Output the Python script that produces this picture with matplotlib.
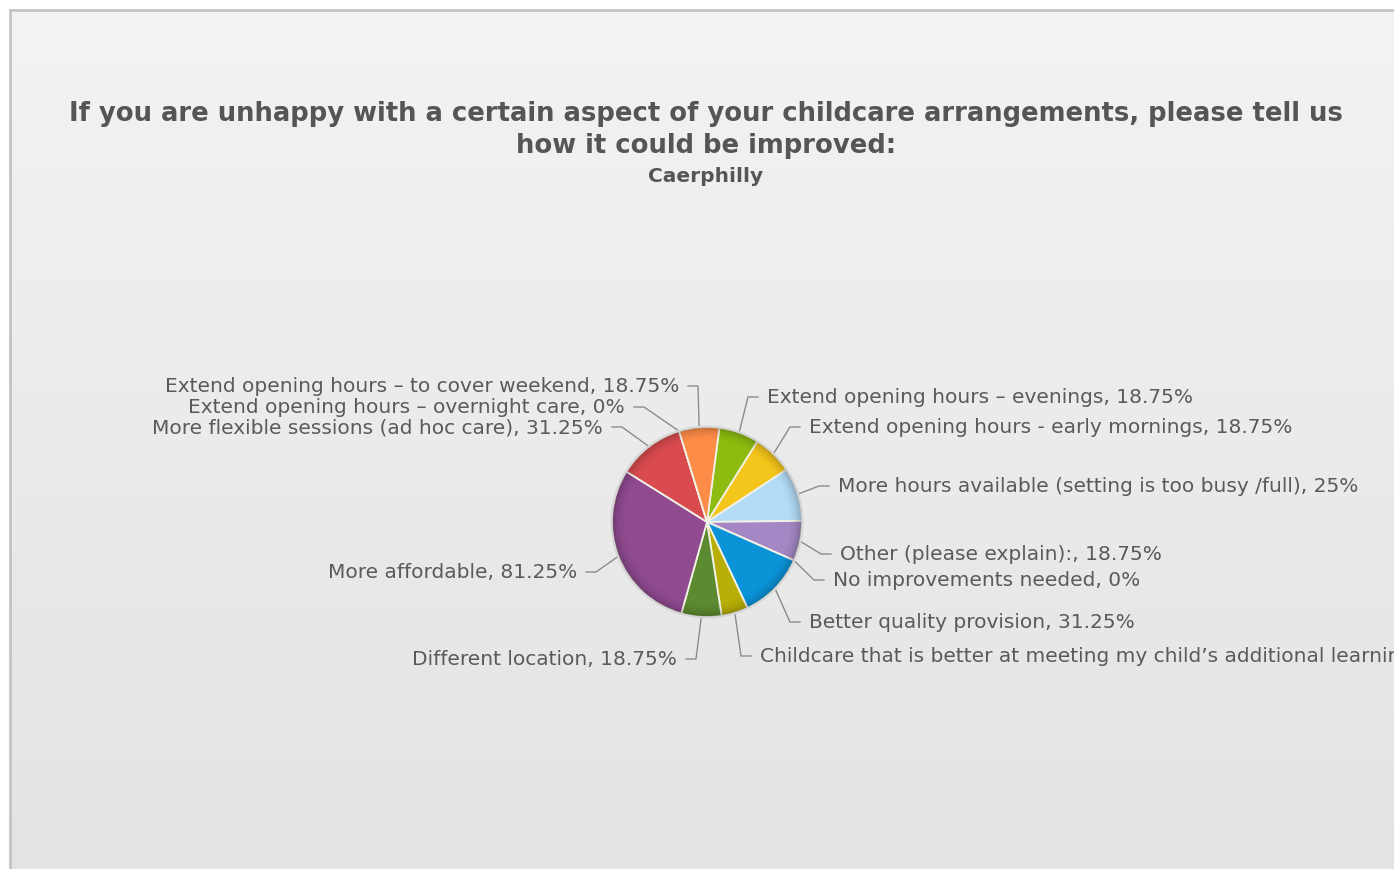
# pie chart: how childcare could be improved, Caerphilly
import numpy as np
import matplotlib

matplotlib.use('Agg')
import matplotlib.pyplot as plt
from matplotlib.patches import Rectangle, Wedge

# data (percent of respondents)
labels = [
    'Extend opening hours \u2013 evenings',
    'Extend opening hours - early mornings',
    'More hours available (setting is too busy /full)',
    'Other (please explain):',
    'No improvements needed',
    'Better quality provision',
    'Childcare that is better at meeting my child\u2019s additional learning needs',
    'Different location',
    'More affordable',
    'More flexible sessions (ad hoc care)',
    'Extend opening hours \u2013 overnight care',
    'Extend opening hours \u2013 to cover weekend',
]
values = [18.75, 18.75, 25, 18.75, 0, 31.25, 12.5, 18.75, 81.25, 31.25, 0, 18.75]
colors = ['#8dbb0f', '#f4c51b', '#b3dbf6', '#a487c4', '#e0e0e0', '#0b93d8',
          '#b8ae08', '#5c8a30', '#8f4a90', '#d94b4e', '#fd8c48', '#fd8c48']

# label positions in pixels (x = left edge for right side, right edge for left side)
label_pos = [
    (767, 398, 'left'), (809, 428, 'left'), (838, 487, 'left'), (840, 555, 'left'),
    (833, 581, 'left'), (809, 623, 'left'), (760, 657, 'left'), (677, 660, 'right'),
    (577, 573, 'right'), (603, 428, 'right'), (625, 408, 'right'), (679, 387, 'right'),
]

W, H = 1394, 870
CX, CY, R = 707, 523, 95
TEXT = '#5a5a5a'

fig = plt.figure(figsize=(W / 100, H / 100), dpi=100, facecolor='white')
ax = fig.add_axes([0, 0, 1, 1])


def Y(y):
    # image rows go down, axis goes up
    return H - y


# panel background with gradient
grad = np.linspace(0, 1, 256).reshape(-1, 1)
ax.imshow(grad, cmap=matplotlib.colors.LinearSegmentedColormap.from_list('bg', ['#f3f3f3', '#e3e3e3']),
          extent=(10, W + 5, Y(H + 5), Y(11)), aspect='auto', zorder=0)
ax.add_patch(Rectangle((10, Y(H + 5)), W, H - 6, fill=False, edgecolor='#c4c4c4', lw=2, zorder=1))

wedges, _ = ax.pie(values, colors=colors, startangle=82.5, counterclock=False,
                   center=(CX, Y(CY)), radius=R,
                   wedgeprops=dict(edgecolor='#f2f2e6', linewidth=1.3, zorder=3))

# bevel shading near the rim
n = 12
for k in range(n):
    r_out = R * (1 - 0.012 * k)
    ax.add_patch(Wedge((CX, Y(CY)), r_out, 0, 360, width=R * 0.012,
                       facecolor='black', edgecolor='none', alpha=0.22 * (1 - k / n) ** 2, zorder=4))
ax.add_patch(Wedge((CX, Y(CY)), R + 1.5, 0, 360, width=1.8, facecolor='#d6d6d6',
                   edgecolor='none', zorder=4))

# labels and connectors
for w, lab, val, (tx, ty, ha) in zip(wedges, labels, values, label_pos):
    ang = np.deg2rad((w.theta1 + w.theta2) / 2)
    px = CX + R * np.cos(ang)
    py = Y(CY) + R * np.sin(ang)
    sgn = -1 if ha == 'left' else 1
    ex, bx = tx + sgn * 9, tx + sgn * 19
    ax.plot([px, bx, ex], [py, Y(ty), Y(ty)], color='#8c8c8c', lw=1, zorder=2)
    ax.text(tx, Y(ty), '%s, %g%%' % (lab, val), ha=ha, va='center',
            fontsize=14.5, color=TEXT, zorder=5)

# titles
ax.text(706, Y(114), 'If you are unhappy with a certain aspect of your childcare arrangements, please tell us',
        ha='center', va='center', fontsize=18.6, fontweight='bold', color='#555555')
ax.text(706, Y(146), 'how it could be improved:',
        ha='center', va='center', fontsize=18.6, fontweight='bold', color='#555555')
ax.text(706, Y(176), 'Caerphilly', ha='center', va='center', fontsize=14.5,
        fontweight='bold', color='#555555')

ax.set_xlim(0, W)
ax.set_ylim(0, H)
ax.set_aspect('auto')
ax.axis('off')

fig.savefig('out.png', dpi=100, facecolor='white')
